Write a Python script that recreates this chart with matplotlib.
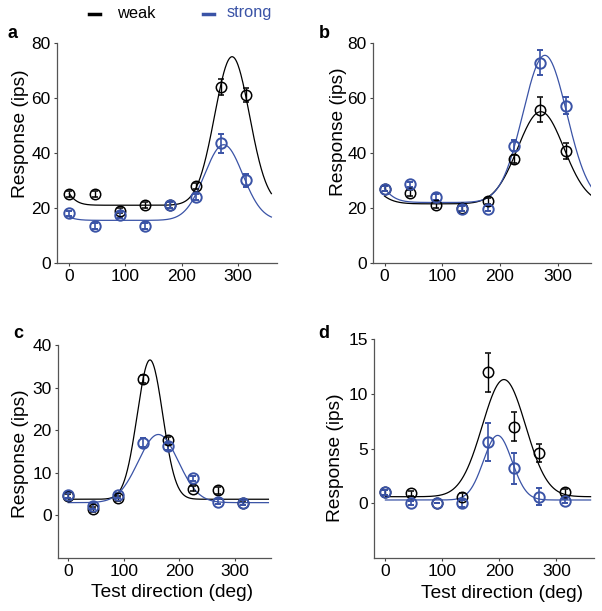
import matplotlib.pyplot as plt
from matplotlib.lines import Line2D
import numpy as np

plt.rcParams['font.family'] = ['Liberation Sans', 'DejaVu Sans']

BLUE = "#3a53a6"

directions = [0, 45, 90, 135, 180, 225, 270, 315]

# panel a
a_weak = [25, 25, 19, 21, 21, 28, 64, 61]
a_weak_err = [1, 1, 1, 1, 1, 1.2, 3, 2.5]
a_strong = [18, 13.5, 17.5, 13.5, 21, 24, 43.5, 30]
a_strong_err = [1, 1, 1, 1, 1, 1.2, 3.5, 2.5]

# panel b
b_weak = [27, 25.5, 21, 20, 22.5, 37.8, 55.7, 40.8]
b_weak_err = [1, 1, 1, 1, 1, 1.5, 4.5, 3]
b_strong = [27, 28.6, 23.9, 19.8, 19.8, 42.7, 72.8, 57.2]
b_strong_err = [1, 1, 1, 1, 1, 2, 4.5, 3]

# panel c
c_weak = [4.6, 1.4, 4.0, 32, 17.6, 6.3, 5.9, 3.0]
c_weak_err = [0.5, 0.5, 0.5, 1, 0.8, 0.6, 0.8, 0.5]
c_strong = [4.7, 2.2, 4.7, 17.1, 16.2, 8.7, 3.2, 3.0]
c_strong_err = [0.6, 0.6, 0.6, 1, 0.8, 0.6, 0.6, 0.6]

# panel d
d_weak = [1.0, 0.9, 0.0, 0.6, 11.95, 7.0, 4.6, 1.0]
d_weak_err = [0.2, 0.2, 0.0, 0.3, 1.8, 1.35, 0.8, 0.3]
d_strong = [1.0, 0.0, 0.0, 0.0, 5.6, 3.2, 0.6, 0.2]
d_strong_err = [0.2, 0.2, 0.0, 0.3, 1.7, 1.4, 0.8, 0.2]

# fitted wrapped-gaussian parameters: baseline, amplitude, preferred dir, width
fit_weak = {"a": (21, 54, 290, 31), "b": (21.5, 33.5, 271, 40),
            "c": (3.8, 32.7, 147, 23), "d": (0.6, 10.7, 208, 38)}
fit_strong = {"a": (15.5, 27.5, 275, 34), "b": (22, 53.5, 278, 38),
              "c": (3.0, 16.0, 162, 36), "d": (0.3, 5.9, 197, 25)}


def tuning(x, base, amp, pref, width):
    d = np.abs(((x - pref) + 180) % 360 - 180)
    return base + amp * np.exp(-d ** 2 / (2 * width ** 2))


fig = plt.figure(figsize=(6.02, 6.11), dpi=100)

panels = [
    ("a", [0.0947, 0.5696, 0.3654, 0.3601], a_weak, a_weak_err, a_strong, a_strong_err,
     (-22, 370), (0, 80), [0, 20, 40, 60, 80], (-0.168, 0.589), None),
    ("b", [0.6196, 0.5696, 0.3621, 0.3601], b_weak, b_weak_err, b_strong, b_strong_err,
     (-20, 358), (0, 80), [0, 20, 40, 60, 80], (-0.16, 0.595), None),
    ("c", [0.0963, 0.0867, 0.3538, 0.3486], c_weak, c_weak_err, c_strong, c_strong_err,
     (-18.5, 364.6), (-10, 40), [0, 10, 20, 30, 40], (-0.178, 0.488), (0.535, -0.164)),
    ("d", [0.6213, 0.0867, 0.3654, 0.3584], d_weak, d_weak_err, d_strong, d_strong_err,
     (-20, 366), (-5, 15), [0, 5, 10, 15], (-0.173, 0.459), (0.584, -0.16)),
]

xs = np.linspace(0, 360, 400)

for name, rect, wk, wke, st, ste, xl, yl, yt, ylab_pos, xlab_pos in panels:
    ax = fig.add_axes(rect)
    ax.plot(xs, tuning(xs, *fit_weak[name]), color="black", lw=0.9)
    ax.plot(xs, tuning(xs, *fit_strong[name]), color=BLUE, lw=0.9)
    ax.errorbar(directions, wk, yerr=wke, fmt="o", mfc="none", mec="black",
                ecolor="black", ms=7.5, mew=1.1, elinewidth=1, capsize=2)
    ax.errorbar(directions, st, yerr=ste, fmt="o", mfc="none", mec=BLUE,
                ecolor=BLUE, ms=7.5, mew=1.4, elinewidth=1.2, capsize=2)
    ax.set_xlim(*xl)
    ax.set_ylim(*yl)
    ax.set_xticks([0, 100, 200, 300])
    ax.set_yticks(yt)
    ax.tick_params(labelsize=12.5, length=2.5, width=0.8, color="#444444", pad=2)
    for s in ["top", "right"]:
        ax.spines[s].set_visible(False)
    for s in ["left", "bottom"]:
        ax.spines[s].set_color("#555555")
        ax.spines[s].set_linewidth(0.9)
    ax.set_ylabel("Response (ips)", fontsize=13.8)
    ax.yaxis.set_label_coords(*ylab_pos)
    if xlab_pos is not None:
        ax.set_xlabel("Test direction (deg)", fontsize=13.8)
        ax.xaxis.set_label_coords(*xlab_pos)
        ax.xaxis.label.set_va("center")
    ax.yaxis.label.set_va("center")

# panel letters
for letter, x, y in [("a", 12, 33), ("b", 324, 33), ("c", 18, 333), ("d", 324, 333)]:
    fig.text(x / 602, 1 - y / 611, letter, fontsize=13, fontweight="bold",
             ha="center", va="center")

# legend
for x0, col in [(89, "black"), (203, BLUE)]:
    fig.add_artist(Line2D([x0 / 602, (x0 + 11) / 602], [1 - 14 / 611, 1 - 14 / 611],
                          color=col, lw=2.5, transform=fig.transFigure))
fig.text(117 / 602, 1 - 13 / 611, "weak", fontsize=11.8, color="black", va="center")
fig.text(227 / 602, 1 - 13 / 611, "strong", fontsize=11.8, color=BLUE, va="center")

plt.savefig("out.png", dpi=100)
